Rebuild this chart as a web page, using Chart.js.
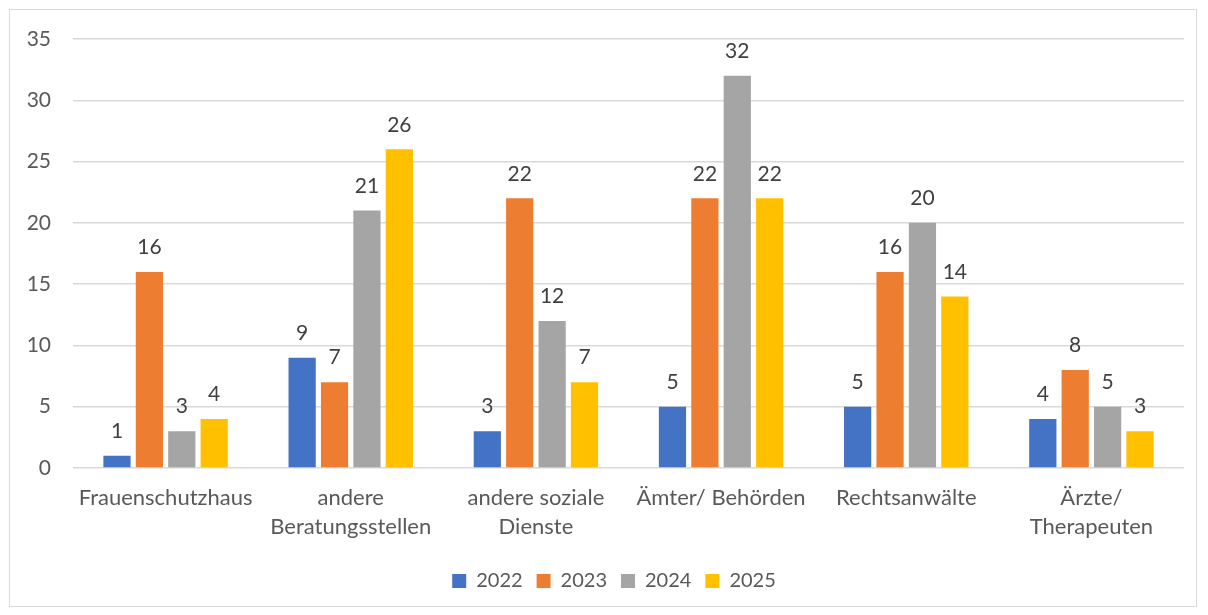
<!DOCTYPE html>
<html>
<head>
<meta charset="utf-8">
<script src="https://cdn.jsdelivr.net/npm/chart.js@4"></script>
<style>
  body { margin: 0; background: #fff; }
  #box {
    position: absolute; left: 9px; top: 9px;
    width: 1186px; height: 596px;
    border: 1px solid #d9d9d9;
  }
</style>
</head>
<body>
<div id="box"><canvas id="chartscreen"></canvas></div>
<script>
// categories + values per year
const categories = [
  "Frauenschutzhaus",
  ["andere", "Beratungsstellen"],
  ["andere soziale", "Dienste"],
  "Ämter/ Behörden",
  "Rechtsanwälte",
  ["Ärzte/", "Therapeuten"]
];
const years = ["2022", "2023", "2024", "2025"];
const v2022 = [1, 9, 3, 5, 5, 4];
const v2023 = [16, 7, 22, 22, 16, 8];
const v2024 = [3, 21, 12, 32, 20, 5];
const v2025 = [4, 26, 7, 22, 14, 3];
const colors = ["#4472C4", "#ED7D31", "#A5A5A5", "#FFC000"];

const fontFam = "Lato, 'Open Sans', sans-serif";

// simple plugin to write the value above each bar
const valueLabels = {
  id: "valueLabels",
  afterDatasetsDraw(chart) {
    const ctx = chart.ctx;
    ctx.save();
    ctx.font = "21px " + fontFam;
    ctx.fillStyle = "#404040";
    ctx.textAlign = "center";
    ctx.textBaseline = "bottom";
    chart.data.datasets.forEach((ds, i) => {
      chart.getDatasetMeta(i).data.forEach((bar, j) => {
        ctx.fillText(ds.data[j], bar.x, bar.y - 14);
      });
    });
    ctx.restore();
  }
};

// legend sits a bit right of the middle in the original
const legendShift = {
  id: "legendShift",
  afterLayout(chart) {
    chart.legend.left += 17;
    chart.legend.right += 17;
  }
};

const allValues = [v2022, v2023, v2024, v2025];

new Chart(document.getElementById("chartscreen"), {
  type: "bar",
  data: {
    labels: categories,
    datasets: years.map((y, i) => ({
      label: y,
      data: allValues[i],
      backgroundColor: colors[i],
      categoryPercentage: 0.7,
      barPercentage: 0.84
    }))
  },
  options: {
    responsive: true,
    maintainAspectRatio: false,
    animation: false,
    layout: { padding: { top: 29, right: 12, left: 0, bottom: 5 } },
    plugins: {
      tooltip: { enabled: false },
      legend: {
        position: "bottom",
        labels: {
          boxWidth: 14,
          boxHeight: 14,
          color: "#595959",
          padding: 14,
          font: { size: 20, family: fontFam }
        }
      }
    },
    scales: {
      x: {
        grid: { display: false },
        border: { display: false },
        ticks: {
          color: "#595959",
          padding: 8,
          maxRotation: 0,
          autoSkip: false,
          font: { size: 22, family: fontFam, lineHeight: 1.3 }
        },
        afterFit(scale) { scale.height = 89; }
      },
      y: {
        min: 0,
        max: 35,
        grid: {
          color: "#d9d9d9",
          lineWidth: 1.5,
          drawTicks: true,
          tickLength: 20,
          tickColor: "rgba(0,0,0,0)"
        },
        border: { display: false },
        ticks: {
          stepSize: 5,
          color: "#595959",
          padding: 2,
          font: { size: 21, family: fontFam }
        },
        afterFit(scale) { scale.width = 63; }
      }
    }
  },
  plugins: [valueLabels, legendShift]
});
</script>
</body>
</html>
